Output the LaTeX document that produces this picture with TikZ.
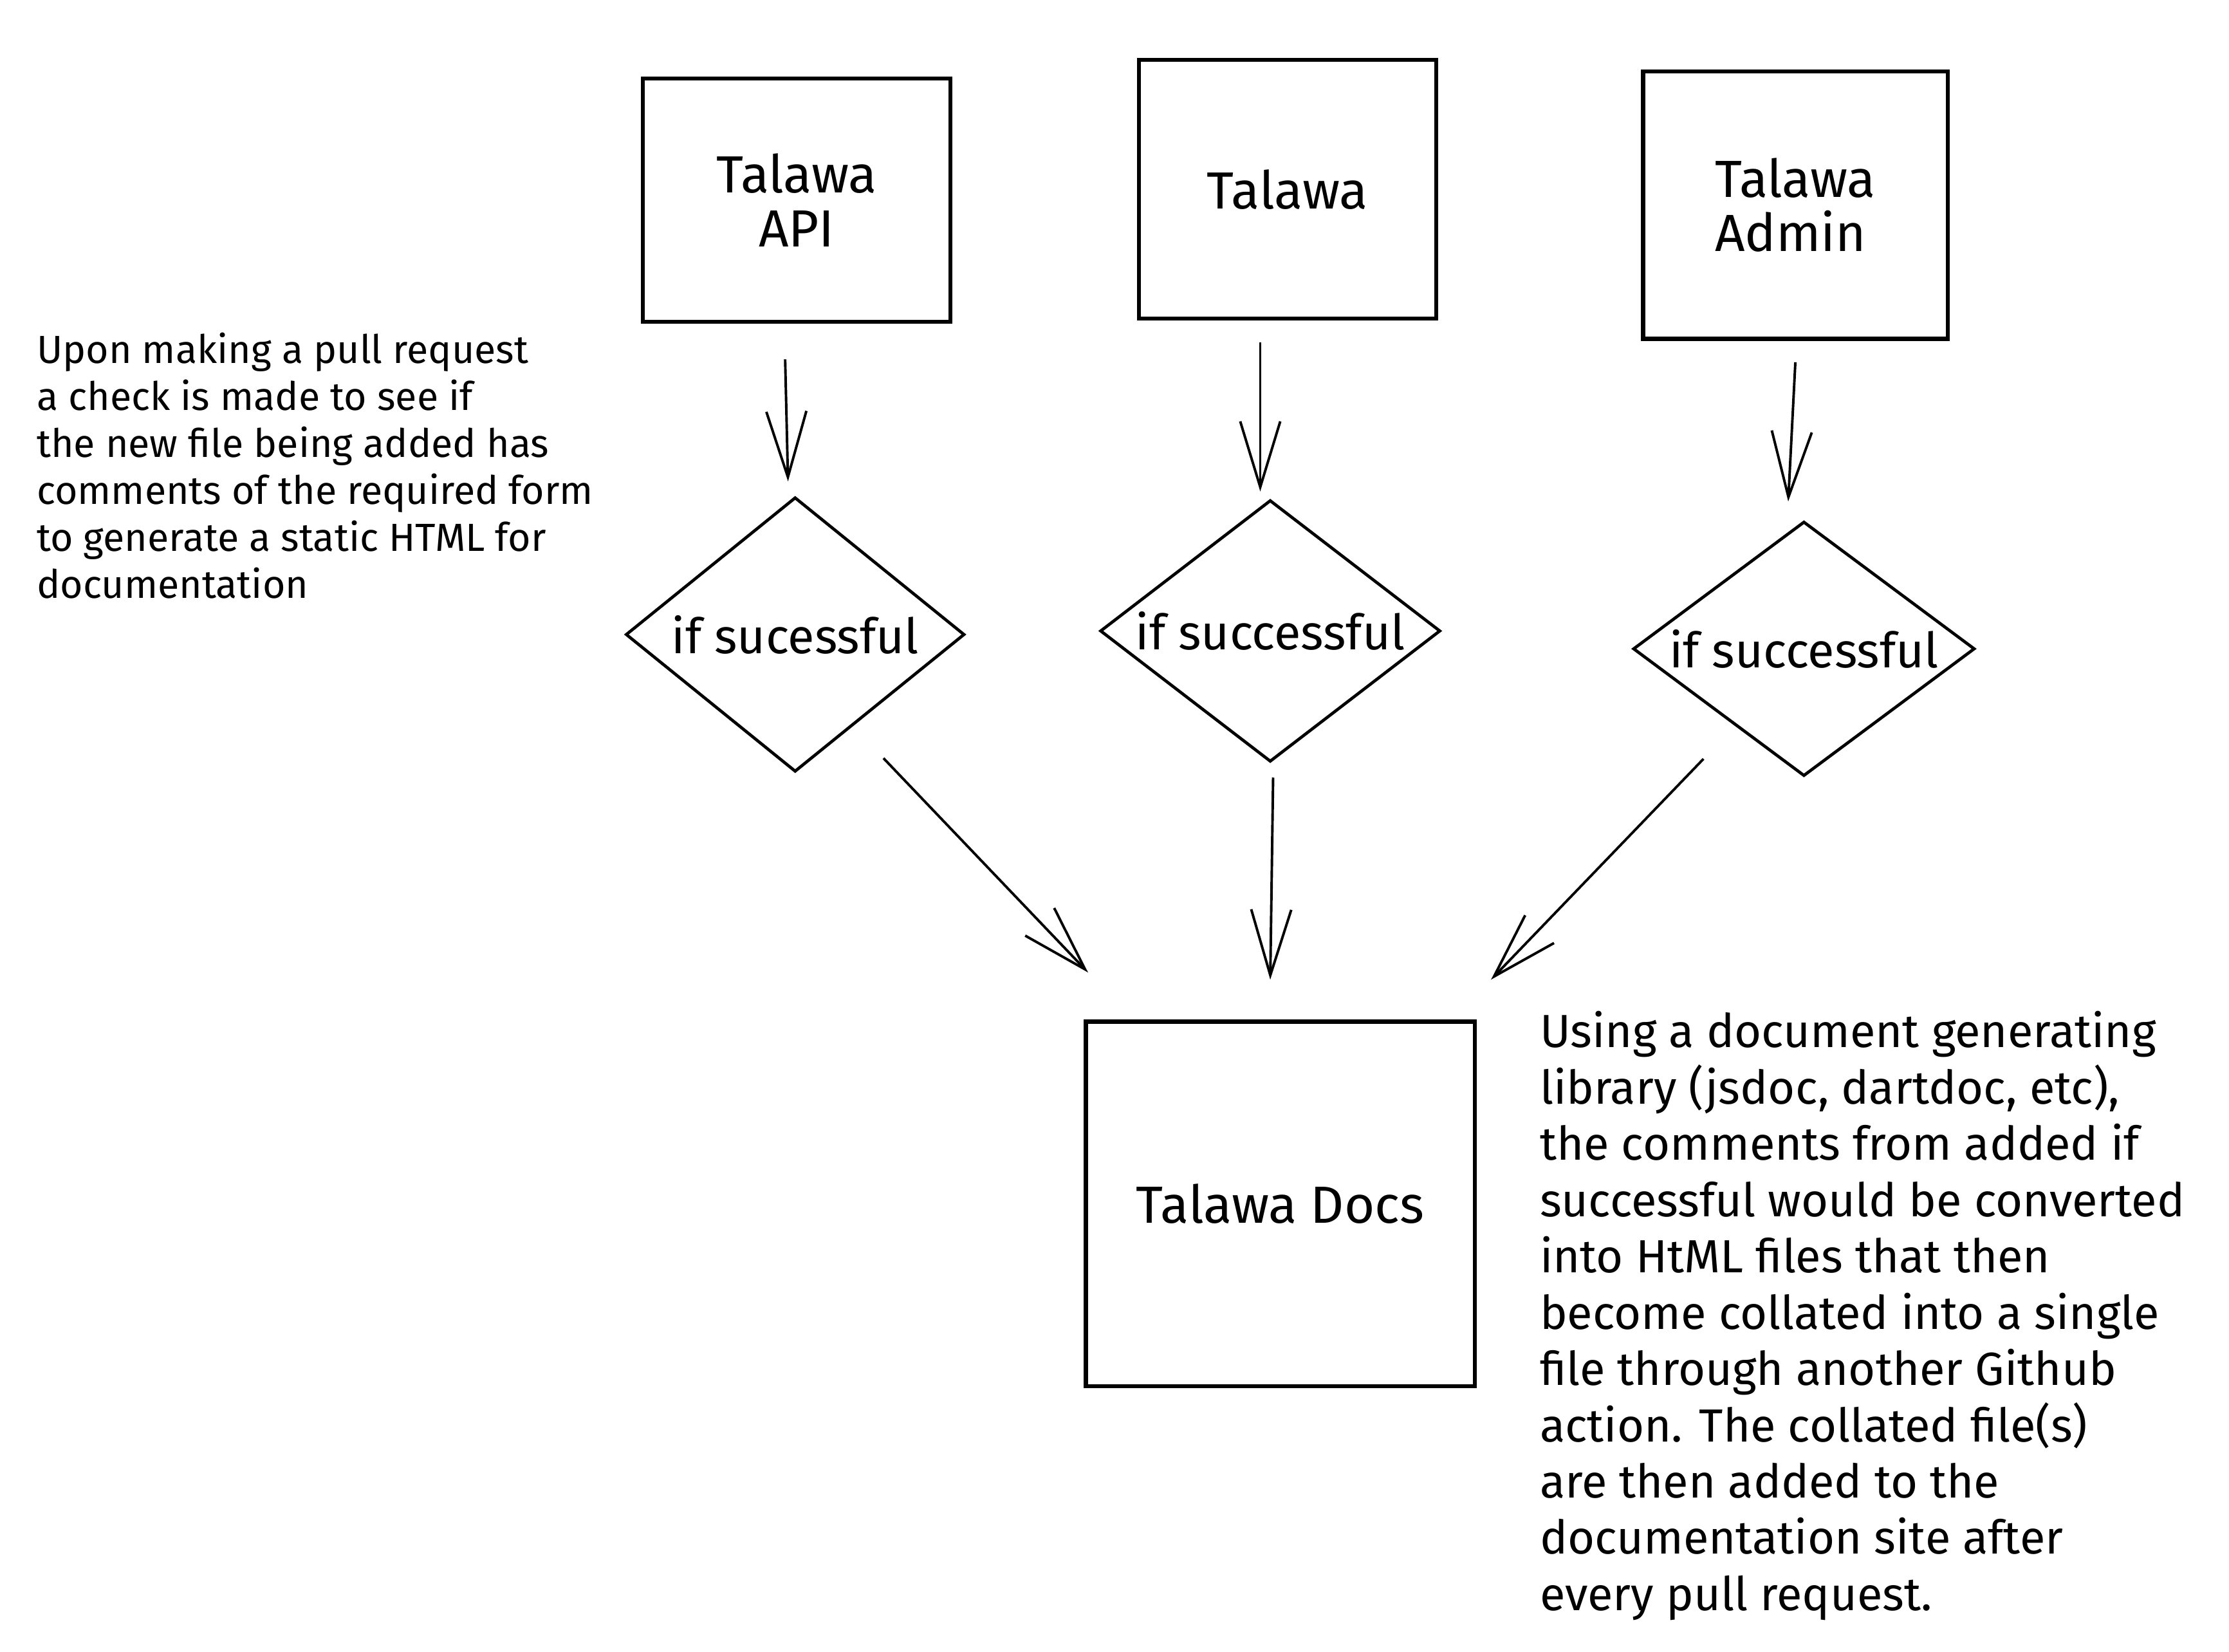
\documentclass[tikz,border=0pt]{standalone}
\usepackage{fontspec}
\setmainfont{Fira Sans}
\usetikzlibrary{shapes.geometric,arrows.meta,calc}

\begin{document}
\begin{tikzpicture}[x=0.01cm,y=-0.01cm,
        repo/.style={draw, line width=0.8pt, inner sep=0pt, align=center, font=\fontsize{10.4}{10.8}\selectfont},
        check/.style={draw, diamond, line width=0.6pt, inner sep=0pt},
        iflabel/.style={font=\fontsize{9.7}{12}\selectfont},
        note/.style={anchor=north west, inner sep=0pt, align=left},
        arr/.style={line width=0.5pt, -{Straight Barb[length=4.6mm,width=2.8mm]}}]
                \useasboundingbox (0,0) rectangle (1560,1156);
                % repositories
                \node [repo, minimum width=2.15cm, minimum height=1.70cm] (api) at (557.5,140) {Talawa\\API};
                \node [repo, minimum width=2.08cm, minimum height=1.81cm] (talawa) at (901,132.5) {Talawa};
                \node [repo, minimum width=2.13cm, minimum height=1.87cm, align=left] (admin) at (1256.5,143.5) {Talawa\\Admin};
                % checks
                \node [check, minimum width=2.37cm, minimum height=1.92cm, label={[iflabel]center:if sucessful}] (d1) at (556.5,444) {};
                \node [check, minimum width=2.38cm, minimum height=1.83cm, label={[iflabel]center:if successful}] (d2) at (889,441.5) {};
                \node [check, minimum width=2.39cm, minimum height=1.78cm, label={[iflabel]center:if successful}] (d3) at (1262.5,454) {};
                % docs
                \node [repo, minimum width=2.72cm, minimum height=2.55cm] (docs) at (896,842.5) {Talawa Docs};
                % notes
                \node [note, font=\fontsize{7.8}{9.36}\selectfont] (left) at (25,232) {Upon making a pull request\\a check is made to see if\\the new file being added has\\comments of the required form\\to generate a static HTML for\\documentation};
                \node [note, font=\fontsize{9.25}{11.2}\selectfont] (right) at (1077,707) {Using a document generating\\library (jsdoc, dartdoc, etc),\\the comments from added if\\successful would be converted\\into HtML files that then\\become collated into a single\\file through another Github\\action. The collated file(s)\\are then added to the\\documentation site after\\every pull request.};
                \draw [arr] ($(api.south)+(-8,25)$) -- ($(d1.north)+(-5,-10)$);
                \draw [arr] ($(talawa.south)+(-19,15)$) -- ($(d2.north)+(-7,-5)$);
                \draw [arr] ($(admin.south)+(0,15)$) -- ($(d3.north)+(-11,-13)$);
                \draw [arr] ($(d1.south east)+(2,38)$) -- ($(docs.north west)+(3,-33)$);
                \draw [arr] ($(d2.south)+(2,10)$) -- ($(docs.north)+(-7,-28)$);
                \draw [arr] ($(d3.south west)+(-10,32)$) -- ($(docs.north east)+(10,-28)$);
\end{tikzpicture}
\end{document}
